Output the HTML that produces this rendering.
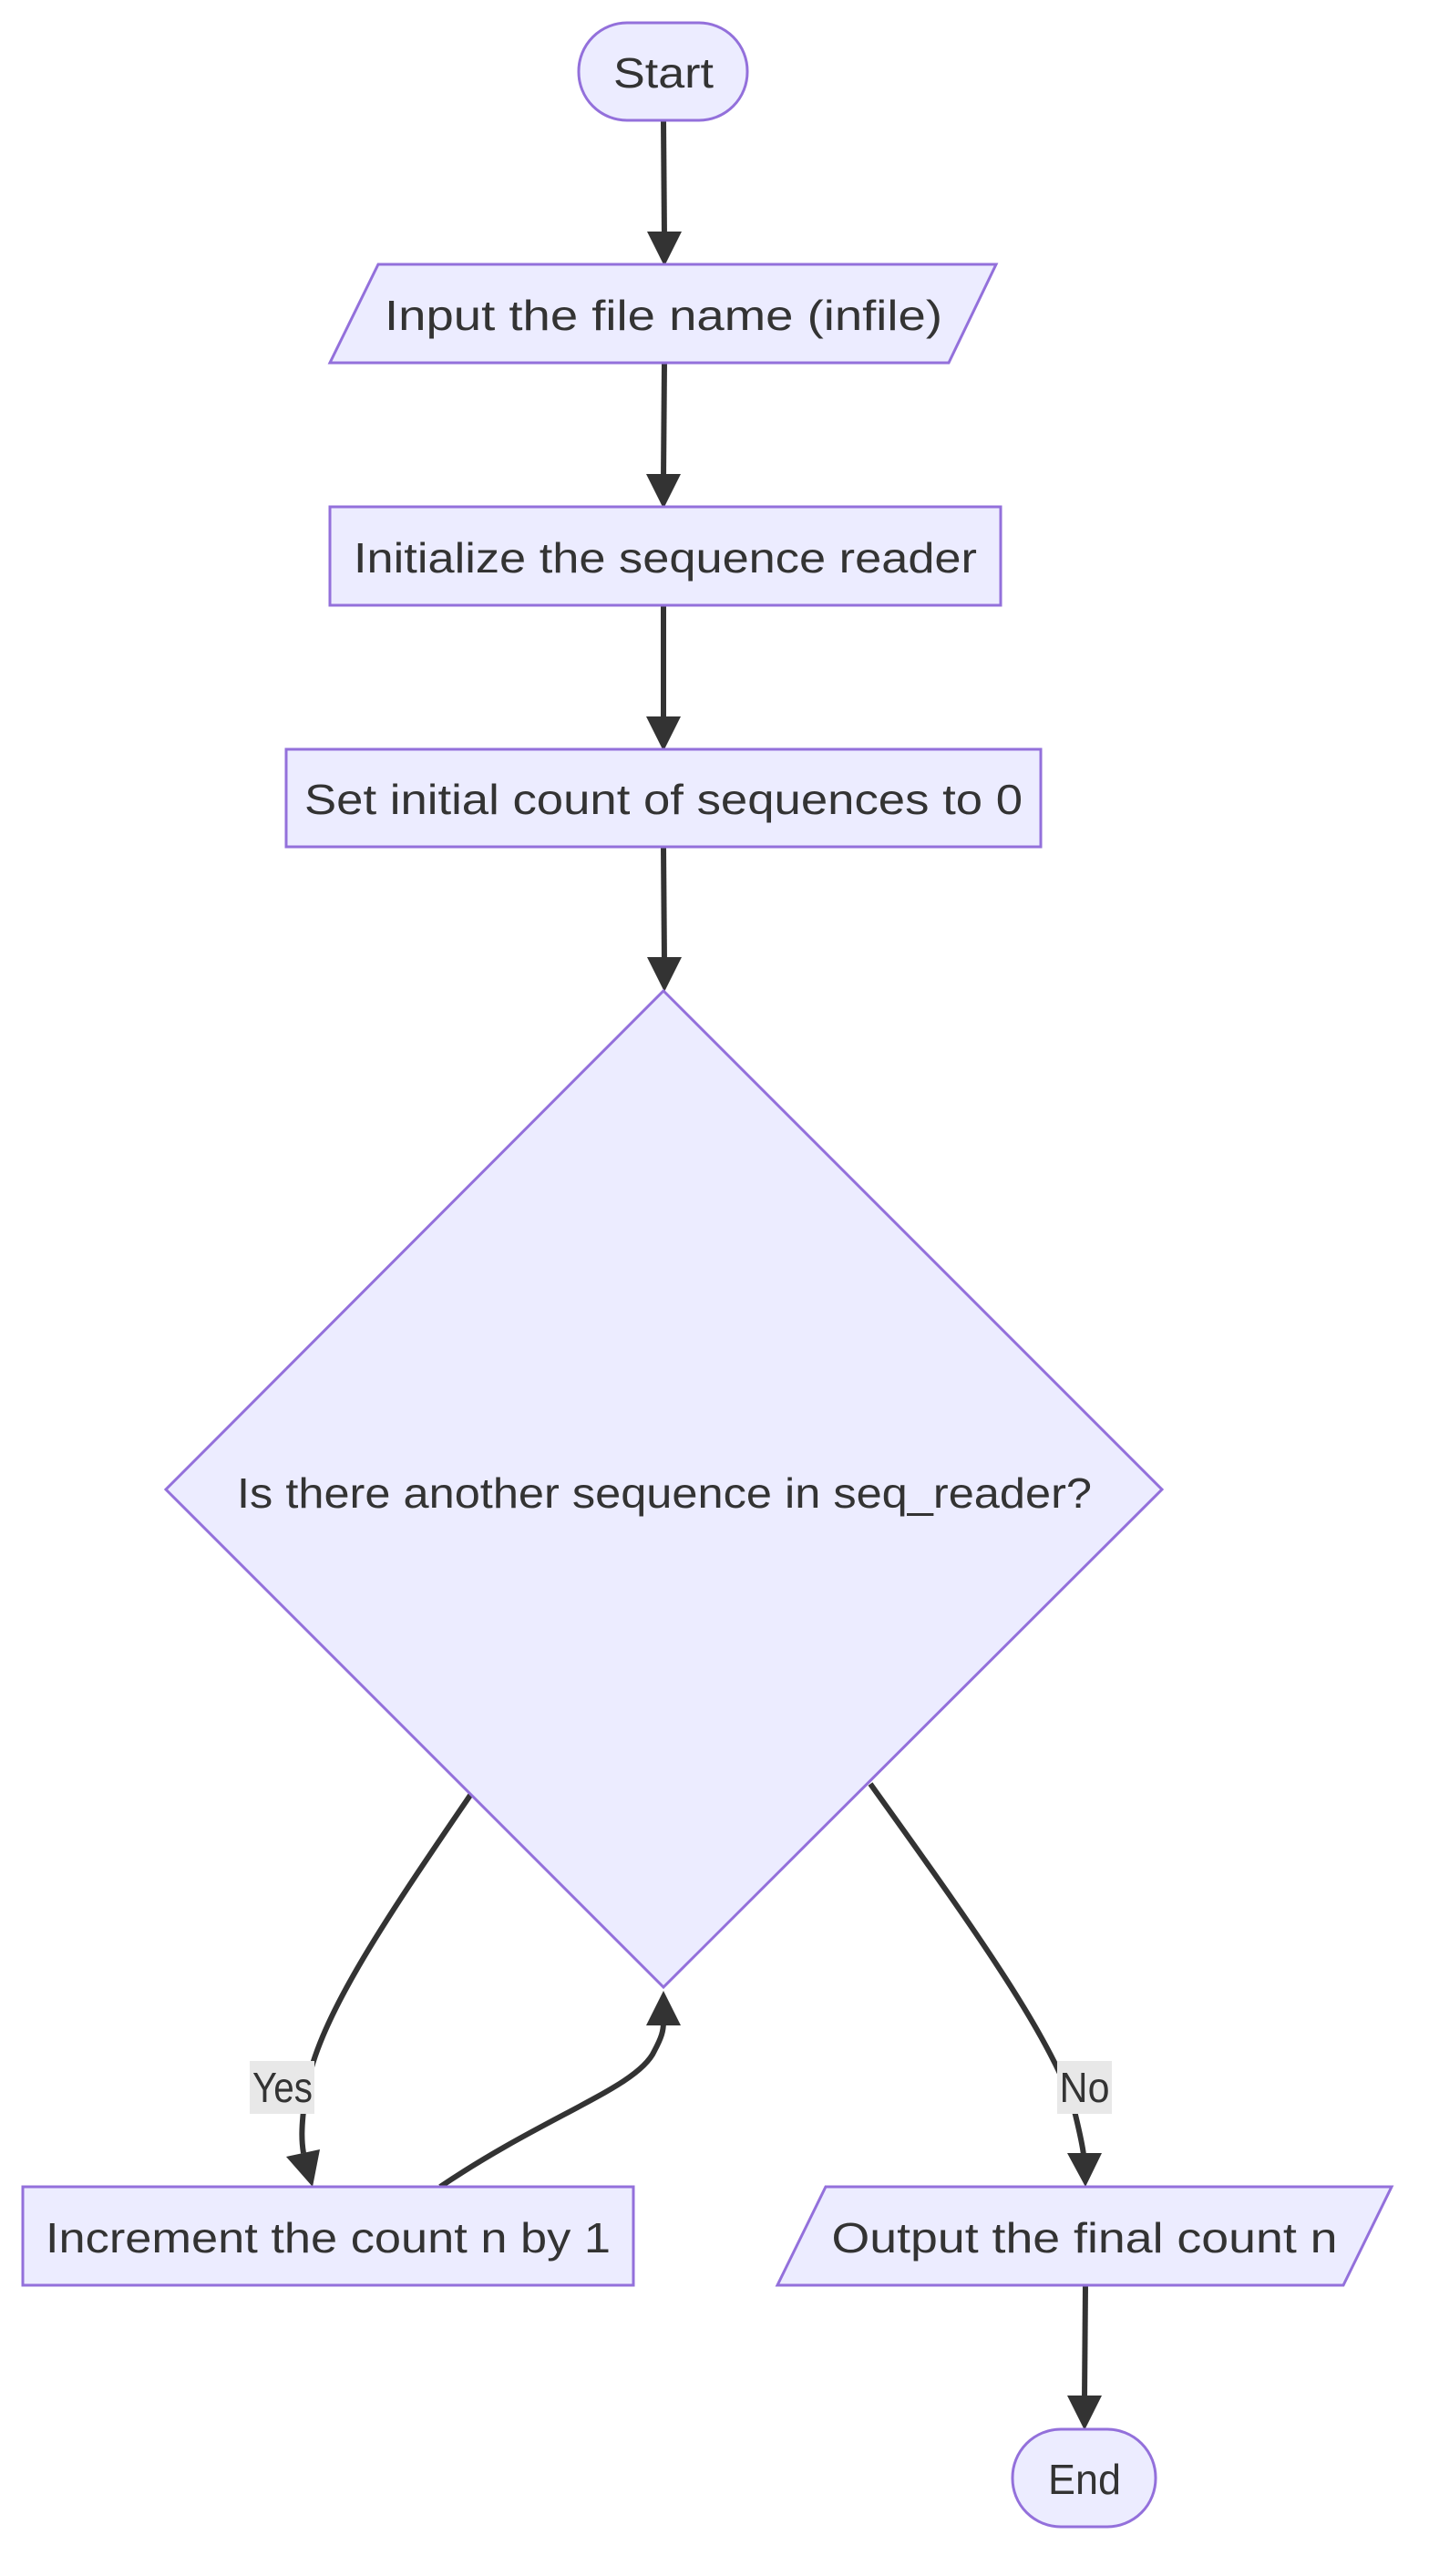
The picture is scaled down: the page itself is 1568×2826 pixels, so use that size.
<!DOCTYPE html>
<html><head><meta charset="utf-8"><style>
html,body{margin:0;padding:0;background:#fff;}
svg{display:block;}
text{font-family:"Liberation Sans",sans-serif;font-size:46px;fill:#333;text-anchor:middle;}
.n{fill:#ECECFF;stroke:#9370DB;stroke-width:3;}
.e{fill:none;stroke:#333;stroke-width:6;}
.a{fill:#333;}
</style></head><body>
<svg width="1568" height="2826" viewBox="0 0 1568 2826" xmlns="http://www.w3.org/2000/svg">
<!-- edges -->
<path class="e" d="M728,132 L729,260"/>
<polygon class="a" points="729,292 710,254 748,254"/>
<path class="e" d="M729,398 L728,526"/>
<polygon class="a" points="728,558 709,520 747,520"/>
<path class="e" d="M728,664 L728,792"/>
<polygon class="a" points="728,824 709,786 747,786"/>
<path class="e" d="M728,929 L729,1056"/>
<polygon class="a" points="729,1088 710,1050 748,1050"/>

<path class="e" d="M517,1968 C420,2110 345,2220 335,2300 C330,2335 331,2350 333,2362"/>
<polygon class="a" points="343,2399 314,2366 351,2358"/>
<path class="e" d="M955,1957 C1050,2090 1160,2240 1180,2320 C1186,2345 1188,2355 1189,2364"/>
<polygon class="a" points="1191,2399 1171,2362 1209,2362"/>
<path class="e" d="M483,2399 C600,2320 700,2290 718,2250 C726,2235 728,2228 728,2218"/>
<polygon class="a" points="728,2184 709,2222 747,2222"/>
<path class="e" d="M1191,2507 L1190,2632"/>
<polygon class="a" points="1190,2666 1171,2628 1209,2628"/>

<!-- nodes -->
<rect class="n" x="635" y="25" width="185" height="107" rx="53" ry="53"/>
<text x="728" y="96" textLength="110" lengthAdjust="spacingAndGlyphs">Start</text>

<polygon class="n" points="415,290 1093,290 1041,398 362,398"/>
<text x="728" y="362" textLength="612" lengthAdjust="spacingAndGlyphs">Input the file name (infile)</text>

<rect class="n" x="362" y="556" width="736" height="108"/>
<text x="730" y="628" textLength="684" lengthAdjust="spacingAndGlyphs">Initialize the sequence reader</text>

<rect class="n" x="314" y="822" width="828" height="107"/>
<text x="728" y="893" textLength="788" lengthAdjust="spacingAndGlyphs">Set initial count of sequences to 0</text>

<polygon class="n" points="728,1087 1275,1634 728,2180 182,1634"/>
<text x="729" y="1654" textLength="938" lengthAdjust="spacingAndGlyphs">Is there another sequence in seq_reader?</text>

<rect class="n" x="25" y="2399" width="670" height="108"/>
<text x="360" y="2471" textLength="620" lengthAdjust="spacingAndGlyphs">Increment the count n by 1</text>

<polygon class="n" points="906,2399 1527,2399 1474,2507 853,2507"/>
<text x="1190" y="2471" textLength="555" lengthAdjust="spacingAndGlyphs">Output the final count n</text>

<rect class="n" x="1111" y="2665" width="157" height="107" rx="53" ry="53"/>
<text x="1190" y="2736" textLength="80" lengthAdjust="spacingAndGlyphs">End</text>

<!-- labels -->
<rect x="274" y="2261" width="71" height="58" fill="#e8e8e8"/>
<text x="310" y="2306" textLength="66" lengthAdjust="spacingAndGlyphs">Yes</text>
<rect x="1160" y="2261" width="60" height="58" fill="#e8e8e8"/>
<text x="1190" y="2306" textLength="55" lengthAdjust="spacingAndGlyphs">No</text>
</svg>
</body></html>
